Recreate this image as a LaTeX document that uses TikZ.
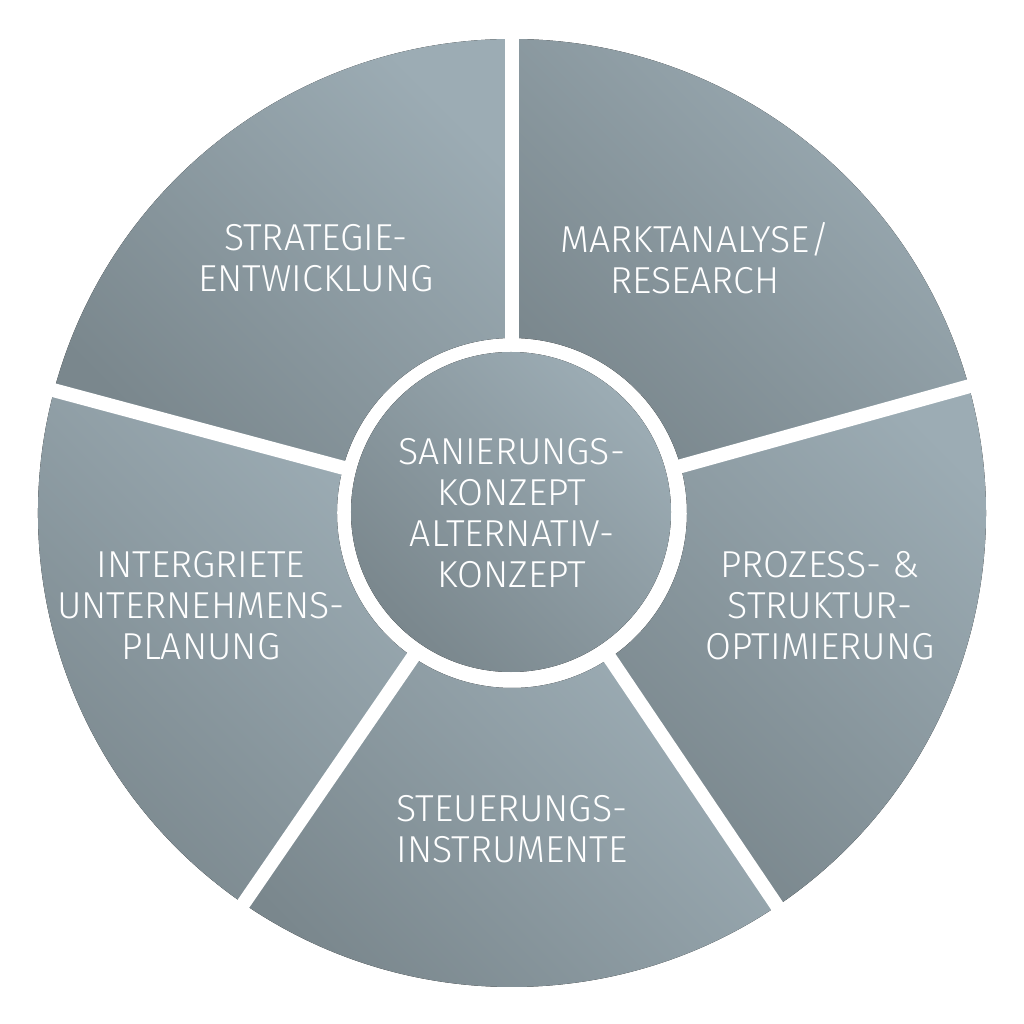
\documentclass[tikz,border=0pt]{standalone}
\usepackage{fontspec}
\setmainfont{Fira Sans}[UprightFont=* Light]
\definecolor{segdark}{RGB}{122,135,141}
\definecolor{seglight}{RGB}{156,172,180}
\tikzset{
  seg/.style={top color=seglight, bottom color=segdark, shading angle=-45},
  gapline/.style={white, line width=14pt},
  lbl/.style={text=white, align=center, font=\fontsize{37.5}{41}\selectfont},
}
\begin{document}
\begin{tikzpicture}
\useasboundingbox[fill=white] (-512pt,-511pt) rectangle (512pt,513pt);
% sectors
\foreach \a/\b in {15.5/90, 90/165, 165/235.5, 235.5/304, 304/375.5}{
  \fill[seg] (\a:474pt) arc[start angle=\a, end angle=\b, radius=474pt]
    -- (\b:175pt) arc[start angle=\b, end angle=\a, radius=175pt] -- cycle;
}
% gaps
\foreach \a in {15.5, 90, 165, 235.5, 304}{
  \draw[gapline] (\a:170pt) -- (\a:482pt);
}
% centre disc
\fill[seg] (-1pt,1pt) circle (160pt);
% labels
\node[lbl] (strat) at (-196pt,255pt) {STRATEGIE-\\ENTWICKLUNG};
\node[lbl] (markt) at (183pt,255pt) {MARKTANALYSE/\\RESEARCH};
\node[lbl] (plan) at (-311pt,-93pt) {INTERGRIETE\\UNTERNEHMENS-\\PLANUNG};
\node[lbl] (proz) at (308pt,-93pt) {PROZESS- \&\\STRUKTUR-\\OPTIMIERUNG};
\node[lbl] (steu) at (0pt,-316pt) {STEUERUNGS-\\INSTRUMENTE};
\node[lbl] (kern) at (0pt,0pt) {SANIERUNGS-\\KONZEPT\\ALTERNATIV-\\KONZEPT};
\end{tikzpicture}
\end{document}
